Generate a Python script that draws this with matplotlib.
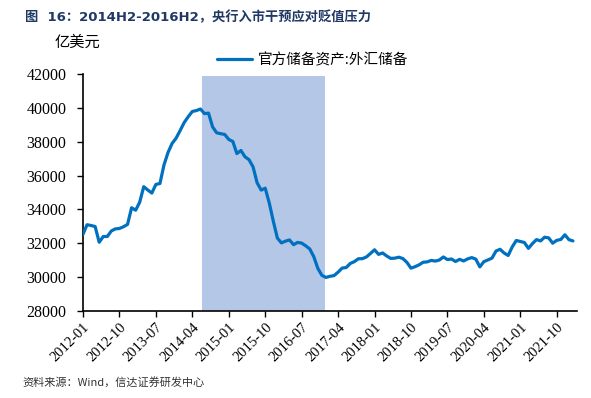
"""图 16: 2014H2-2016H2 央行入市干预应对贬值压力 (外汇储备走势)."""
import matplotlib
matplotlib.use("Agg")
import matplotlib.pyplot as plt
import numpy as np
import pandas as pd

plt.rcParams["font.family"] = ["Liberation Serif", "Noto Sans CJK SC"]

# 官方储备资产:外汇储备 (亿美元), 月度, 2012-01 ~ 2022-02
start_month = "2012-01"
fx_reserve = [
    32536, 33096, 33050, 32989, 32061, 32400, 32400, 32729, 32851, 32874, 32977, 33116,  # 2012
    34100, 33954, 34426, 35345, 35148, 34967, 35478, 35530, 36627, 37366, 37895, 38213,  # 2013
    38666, 39137, 39481, 39788, 39839, 39932, 39662, 39688, 38877, 38529, 38473, 38430,  # 2014
    38134, 38015, 37300, 37481, 37111, 36939, 36513, 35574, 35141, 35255, 34383, 33304,  # 2015
    32309, 32023, 32126, 32197, 31917, 32052, 32011, 31851, 31664, 31206, 30516, 30105,  # 2016
    29982, 30051, 30091, 30295, 30536, 30568, 30807, 30915, 31085, 31092, 31193, 31399,  # 2017
    31615, 31345, 31428, 31249, 31106, 31121, 31179, 31097, 30870, 30531, 30617, 30727,  # 2018
    30879, 30901, 30988, 30950, 31010, 31192, 31037, 31072, 30924, 31052, 30956, 31079,  # 2019
    31155, 31067, 30606, 30915, 31017, 31123, 31544, 31646, 31426, 31280, 31785, 32165,  # 2020
    32107, 32048, 31700, 31982, 32218, 32140, 32359, 32321, 32006, 32176, 32224, 32502,  # 2021
    32216, 32138,                                                                          # 2022
]
# 阴影区间 (央行入市干预): 以月序号表示
shade_start, shade_end = 29.3, 59.7
tick_step = 9

months = pd.period_range(start_month, periods=len(fx_reserve), freq="M")
x = np.arange(len(fx_reserve))

fig = plt.figure(figsize=(5.91, 3.98), dpi=100)
ax = fig.add_axes([83 / 591, 1 - 311 / 398, (577 - 83) / 591, (311 - 74) / 398])

ax.axvspan(shade_start, shade_end, ymin=0, ymax=0.993, color="#B4C7E7", lw=0, zorder=1)
ax.plot(x, fx_reserve, color="#0070C0", lw=2.3, zorder=3,
        label="官方储备资产:外汇储备", solid_joinstyle="round", solid_capstyle="round")

ax.set_xlim(0, 122)
ax.set_ylim(28000, 42000)
ax.set_yticks(np.arange(28000, 42001, 2000))
tick_pos = np.arange(0, len(fx_reserve), tick_step)
ax.set_xticks(tick_pos)
ax.set_xticklabels([str(months[i]) for i in tick_pos], rotation=45,
                   ha="right", rotation_mode="anchor", fontsize=10.5)
ax.tick_params(axis="y", labelsize=11.5, direction="out", length=4, width=1, pad=8)
ax.tick_params(axis="x", direction="out", length=4, width=1, pad=3)

for s in ["top", "right"]:
    ax.spines[s].set_visible(False)
for s in ["left", "bottom"]:
    ax.spines[s].set_linewidth(1.2)

ax.legend(loc="upper left", bbox_to_anchor=(0.245, 1.145), frameon=False,
          handlelength=2.4, handletextpad=0.4, prop={"family": "Noto Sans CJK SC", "size": 10.5})

fig.text(55 / 591, 1 - 42 / 398, "亿美元", fontsize=11, va="center",
         family="Noto Sans CJK SC")
fig.text(25 / 591, 1 - 17 / 398, "图  16：2014H2-2016H2，央行入市干预应对贬值压力",
         fontsize=9.5, fontweight="bold", color="#1F3864", va="center",
         family=["DejaVu Sans", "Noto Sans CJK SC"])
fig.text(22 / 591, 1 - 382 / 398, "资料来源：Wind，信达证券研发中心", fontsize=8,
         style="italic", color="#333333", va="center",
         family=["Noto Sans CJK SC", "DejaVu Sans"])

fig.savefig("out.png", dpi=100)
plt.close(fig)
